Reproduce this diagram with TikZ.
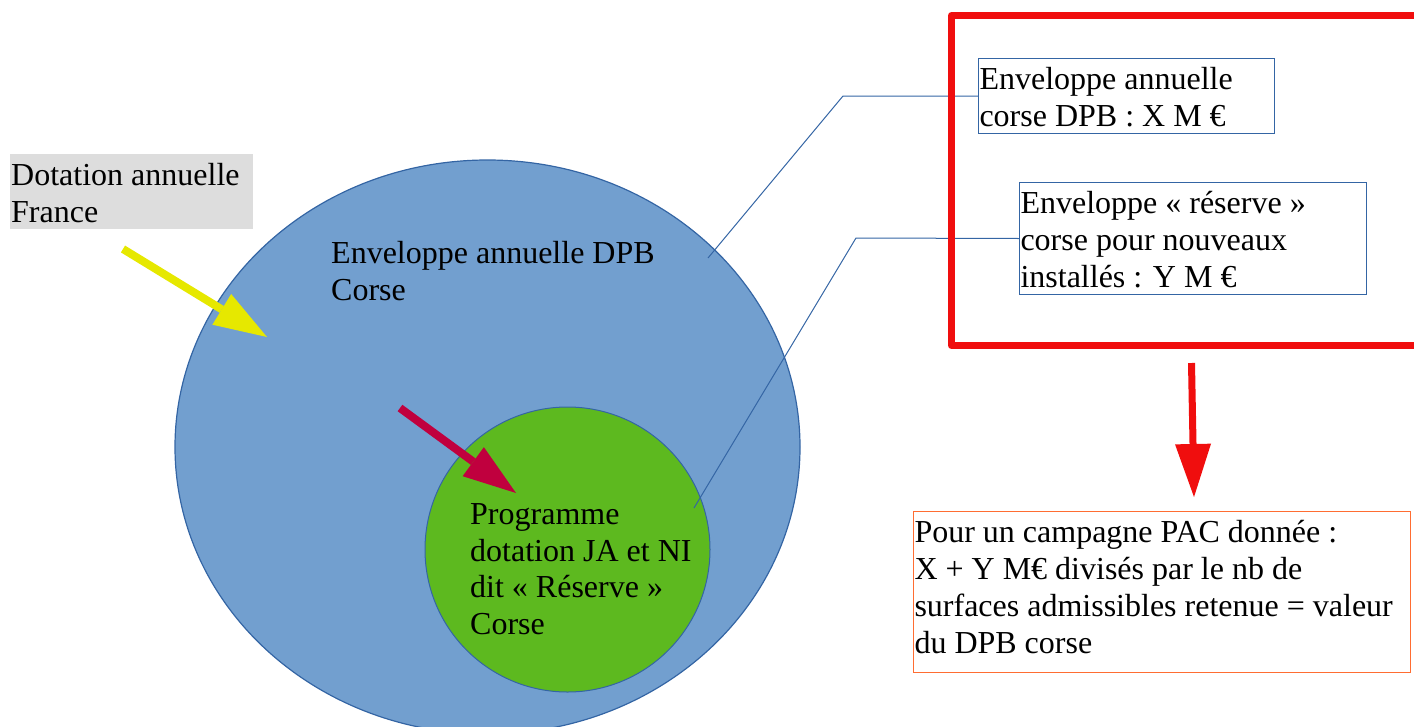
\documentclass[tikz,border=0pt]{standalone}
\usepackage{fontspec}
\setmainfont{Liberation Serif}
\usetikzlibrary{arrows.meta}
\definecolor{dpbblue}{RGB}{114,159,207}
\definecolor{dpbline}{RGB}{52,101,164}
\definecolor{reservegreen}{RGB}{93,185,31}
\definecolor{framered}{RGB}{240,14,14}
\definecolor{franceyellow}{RGB}{230,232,0}
\definecolor{reservecrimson}{RGB}{192,0,62}
\definecolor{resultorange}{RGB}{255,109,50}
\definecolor{labelgray}{RGB}{221,221,221}
\tikzset{
  txt/.style={anchor=north west, inner xsep=1pt, inner ysep=0pt, align=flush left,
    font=\fontsize{32}{36.8}\selectfont,
    execute at begin node={\rule{0pt}{31pt}},
    execute at end node={\rule[-7pt]{0pt}{7pt}}},
  callout/.style={txt, draw=dpbline, line width=1pt},
  leader/.style={dpbline, line width=1pt},
  fatarrow/.style={-{Triangle[length=53pt,width=36pt,line width=0pt]}}
}
\begin{document}
\begin{tikzpicture}[x=1pt,y=-1pt]
\useasboundingbox (0,0) rectangle (1414,726);
\def\bigcircle{(487.5,447) ellipse (312.5pt and 287pt)}
\def\smallcircle{(567.5,549.5) circle (142.5pt)}
\filldraw[fill=dpbblue, draw=dpbline, line width=1.2pt] \bigcircle;
\filldraw[fill=reservegreen, draw=dpbline, line width=1pt] \smallcircle;
\node[txt, text width=340pt] (dpb) at (330,232) {Enveloppe annuelle DPB\\Corse};
\node[txt, text width=250pt] (reserve) at (469,493) {Programme\\dotation JA et NI\\dit « Réserve »\\Corse};
% France
\node[txt, fill=labelgray, text width=241pt, minimum height=75pt] (france) at (10,154)
  {Dotation annuelle\\France};
\coordinate (francetail) at (123,249);
\coordinate (francetip) at (267,337);
\draw[fatarrow, franceyellow, line width=8pt] (francetail) -- (francetip);
\coordinate (reservetail) at (400,408);
\coordinate (reservetip) at (516,493);
\draw[fatarrow, reservecrimson, line width=8pt] (reservetail) -- (reservetip);
% enveloppes
\node[callout, text width=294pt, minimum height=75pt] (dpbbox) at (978,58)
  {Enveloppe annuelle\\corse DPB : X M €};
\node[callout, text width=345pt, minimum height=112pt] (reservebox) at (1019,182)
  {Enveloppe « réserve »\\corse pour nouveaux\\installés : Y M €};
\coordinate (dpbpin) at (708,258);
\coordinate (reservepin) at (694,508);
\draw[leader] (dpbpin) -- (843,96) -- (dpbbox.west);
\draw[leader] (reservepin) -- (856,238) -- (reservebox.west);
\draw[framered, line width=7pt, line join=round] (1520,15.5) -| (951.5,345.5) -- (1520,345.5);
% resultat
\node[callout, draw=resultorange, text width=495pt, minimum height=161pt,
  execute at end node={\rule[-19pt]{0pt}{19pt}}] (result) at (913,511)
  {Pour un campagne PAC donnée :\\X + Y M€ divisés par le nb de\\surfaces admissibles retenue = valeur\\du DPB corse};
\coordinate (frametail) at (1191.5,363);
\coordinate (resulttip) at (1194,497);
\draw[fatarrow, framered, line width=7pt] (frametail) -- (resulttip);
\end{tikzpicture}
\end{document}
